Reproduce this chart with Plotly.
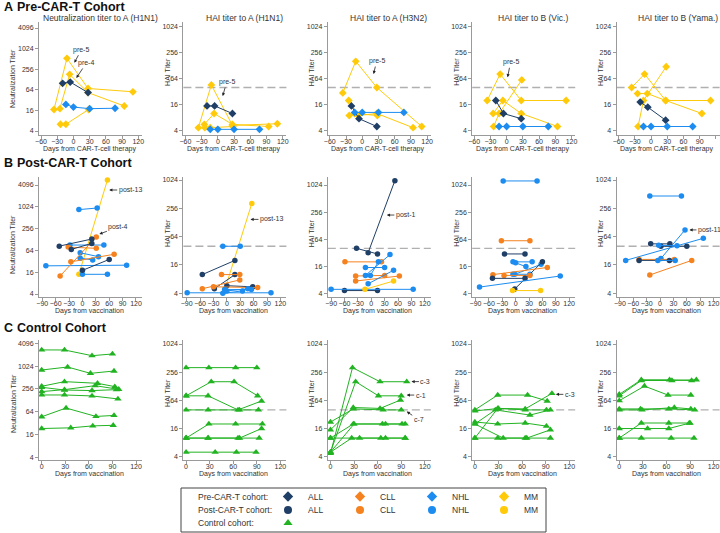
import math
import plotly.graph_objects as go

# ---------------- data ----------------
COLORS = {"ALL": "#203F66", "CLL": "#F5821F", "NHL": "#1C8CF0", "MM": "#FFCA0A", "CTRL": "#22B322"}
GROUPS = ["ALL", "CLL", "NHL", "MM"]

# A: pre-CAR-T cohort, one row per subject, same days in all five assays
PRE_GROUPS = ["MM", "MM", "MM", "ALL", "NHL"]
PRE_DAYS = [
    [-36, -12, 27, 110],  # pre-5
    [-25, -7, 27, 94],
    [-24, -14, 28],
    [-20, -6, 27],        # pre-4
    [-14, 0, 30, 77],
]
PRE_NEUT_H1N1 = [[17, 534, 70, 56], [18, 181, 53, 21.5], [6.3, 6.3, 17], [99, 108, 53], [24, 20, 18, 18.5]]
PRE_HAI_H1N1 = [[4.7, 46, 5.3, 5.8], [5.6, 10, 5.6, 5], [4.7, 4.7, 5], [15, 15, 10], [4.3, 4.3, 4.3, 4.3]]
PRE_HAI_H3N2 = [[30, 162, 40, 5], [20, 9, 10, 4.7], [9, 10, 9], [15, 7.6, 5], [10.6, 10.6, 10.6, 10.6]]
PRE_HAI_BVIC = [[20, 82, 20, 20], [10, 20, 10, 5], [5, 10, 60], [20, 10, 7.6], [5, 5, 5, 5]]
PRE_HAI_BYAM = [[40, 82, 20, 20], [29, 29, 20, 10], [5, 20, 121], [18.4, 14, 7], [5, 5, 5, 5]]

# B: post-CAR-T cohort, (group, days, titers)
POST_NEUT_H1N1 = [
    ("MM", [-8, 56], [14, 5600]),
    ("NHL", [-8, 33], [856, 948]),
    ("NHL", [-28, 48], [90, 90]),
    ("NHL", [-5, 36], [55, 43]),
    ("NHL", [-5, 23], [39, 35]),
    ("NHL", [-82, 99], [24, 25]),
    ("NHL", [0, 56], [14, 14]),
    ("CLL", [-32, 31], [79, 73]),
    ("CLL", [-26, 71], [31, 50]),
    ("CLL", [-50, 31], [12.6, 150]),
    ("ALL", [-52, 21], [84, 132]),
    ("ALL", [-25, 21], [68, 100]),
    ("ALL", [0, 60], [18, 36]),
]
POST_HAI_H1N1 = [
    ("MM", [-4, 56], [5, 326]),
    ("ALL", [-55, 18], [10, 20]),
    ("ALL", [-28, 18], [5, 10]),
    ("ALL", [0, 58], [5.8, 5.5]),
    ("CLL", [-55, 29], [5, 7.7]),
    ("CLL", [-12, 29], [10, 10]),
    ("CLL", [-30, 69], [5.5, 5.3]),
    ("NHL", [-89, 99], [4.1, 4.1]),
    ("NHL", [-9, 30], [40, 40]),
    ("NHL", [-9, 35], [4, 4.5]),
    ("NHL", [0, 47], [4.5, 5]),
    ("NHL", [-5, 55], [4.8, 4.8]),
]
POST_HAI_H3N2 = [
    ("ALL", [-33, 14], [40, 30]),
    ("ALL", [-7, 53], [32, 1280]),
    ("ALL", [-60, 14], [4.6, 4.6]),
    ("CLL", [-59, 23], [20, 20]),
    ("CLL", [-35, 30], [9.7, 10]),
    ("CLL", [-35, 63], [7.5, 9.7]),
    ("NHL", [-13, 30], [15, 15]),
    ("NHL", [-13, 42], [10, 29]),
    ("NHL", [-7, 50], [6.5, 13]),
    ("NHL", [-2, 16], [10, 20]),
    ("NHL", [-90, 94], [4.9, 4.9]),
    ("MM", [-14, 50], [4.9, 7.5]),
]
POST_HAI_BVIC = [
    ("NHL", [-28, 48], [1260, 1260]),
    ("CLL", [-32, 32], [59, 59]),
    ("ALL", [-25, 21], [30, 30]),
    ("NHL", [-6, 37], [20, 20]),
    ("NHL", [0, 23], [19, 15.7]),
    ("NHL", [-6, 32], [10.6, 10.6]),
    ("NHL", [-2, 57], [10.6, 17.6]),
    ("ALL", [-2, 60], [5, 20]),
    ("CLL", [-51, 71], [10.4, 15]),
    ("CLL", [-26, 32], [10, 10]),
    ("ALL", [-52, 21], [8.6, 8.6]),
    ("NHL", [-81, 100], [5.5, 9.7]),
    ("MM", [-7, 56], [4.6, 4.6]),
]
POST_HAI_BYAM = [
    ("NHL", [-23, 48], [468, 468]),
    ("NHL", [2, 56], [22, 89]),
    ("ALL", [-21, 22], [45, 45]),
    ("ALL", [2, 60], [40, 40]),
    ("NHL", [-3, 38], [42, 41]),
    ("NHL", [-77, 97], [20, 59]),
    ("CLL", [-47, 32], [21, 21]),
    ("ALL", [-47, 21], [20, 20]),
    ("NHL", [-5, 34], [20, 20]),
    ("CLL", [-23, 71], [9.8, 20]),
]

# C: control cohort, (days, titers)
CTRL_NEUT_H1N1 = [
    ([0, 29, 64, 90], [2740, 2730, 1930, 2140]),
    ([0, 33, 62, 92], [808, 970, 660, 760]),
    ([0, 29, 71, 93], [300, 398, 360, 294]),
    ([0, 29, 64, 95], [282, 239, 231, 245]),
    ([0, 29, 68, 98], [217, 245, 312, 249]),
    ([0, 29, 64, 97], [177, 177, 167, 139]),
    ([0, 31, 69, 92], [47, 80, 48, 51]),
    ([0, 37, 65, 91], [23, 24, 27, 28]),
]
CTRL_HAI_H1N1 = [
    ([0, 29, 63, 90], [320, 320, 320, 320]),
    ([0, 32, 61, 91], [80, 160, 160, 80]),
    ([0, 28, 66, 96], [80, 80, 40, 62]),
    ([0, 28, 68, 92], [40, 40, 40, 40]),
    ([0, 29, 63, 97], [10, 20, 20, 20]),
    ([0, 28, 66, 93], [10, 10, 10, 10]),
    ([0, 28, 68, 96], [10, 10, 10, 16]),
    ([0, 37, 64, 89], [5, 5, 5, 5]),
]
CTRL_HAI_H3N2 = [
    ([0, 28, 63, 97], [4.7, 320, 160, 160]),   # c-3
    ([0, 32, 61, 90], [5, 160, 80, 80]),       # c-1
    ([0, 29, 67, 90], [22, 42, 40, 40]),       # c-7
    ([0, 29, 63, 89], [15, 45, 43, 65]),
    ([0, 29, 66, 91], [10, 20, 20, 20]),
    ([0, 37, 64, 95], [10, 10, 10, 10]),
    ([0, 27, 70, 95], [5, 10, 10, 10]),
    ([0, 30, 70, 95], [5, 20, 20, 20]),
]
CTRL_HAI_BVIC = [
    ([0, 29, 67, 92], [40, 83, 83, 62]),
    ([0, 30, 64, 98], [38, 43, 42, 90]),       # c-3
    ([0, 26, 70, 96], [20, 40, 31, 40]),
    ([0, 29, 64, 91], [10, 43, 40, 40]),
    ([0, 29, 64, 91], [22, 20, 21, 18]),
    ([0, 36, 66, 96], [20, 10, 10, 15]),
    ([0, 29, 64, 96], [10, 10, 10, 10]),
]
CTRL_HAI_BYAM = [
    ([0, 28, 64, 92], [86, 176, 176, 170]),
    ([0, 28, 67, 98], [80, 170, 170, 176]),
    ([0, 32, 62, 91], [63, 129, 83, 83]),
    ([0, 27, 63, 96], [42, 42, 42, 40]),
    ([0, 29, 70, 91], [40, 40, 45, 42]),
    ([0, 36, 63, 90], [16, 16, 16, 21]),
    ([0, 28, 63, 89], [10, 21, 21, 21]),
    ([0, 28, 66, 95], [10, 10, 10, 10]),
]

TITLES = ["Neutralization titer to A (H1N1)", "HAI titer to A (H1N1)", "HAI titer to A (H3N2)",
          "HAI titer to B (Vic.)", "HAI titer to B (Yama.)"]
NEUT_TICKS = [4, 16, 64, 256, 1024, 4096]
HAI_TICKS = [4, 16, 64, 256, 1024]
X_TICKS = [[-60, -30, 0, 30, 60, 90, 120], [-90, -60, -30, 0, 30, 60, 90, 120], [0, 30, 60, 90, 120]]
X_TITLES = ["Days from CAR-T-cell therapy", "Days from vaccination", "Days from vaccination"]
HAI_CUTOFF = 40

# (panel, label, head day, head titer, text dx, text dy)
CALLOUTS = [
    (1, "pre-5", 1.7, 396, 7, -13), (1, "pre-4", 5.4, 142, 10, -15),
    (2, "pre-5", 9, 25.4, 4, -14), (3, "pre-5", 21, 82, 3, -13), (4, "pre-5", 1.7, 69, 3, -15),
    (6, "post-13", 60, 2980, 21, 0), (6, "post-4", 38, 181, 19, -7),
    (7, "post-13", 53, 149, 21, 0), (8, "post-1", 35, 220, 19, 0), (10, "post-11", 66, 89, 20, 0),
    (13, "c-3", 103, 161, 14, 0), (13, "c-1", 97, 83, 14, 0), (13, "c-7", 97, 36.8, 12, 8),
    (14, "c-3", 103, 86, 14, 0),
]

# ---------------- layout geometry ----------------
W, H = 720, 533
FONT = "Arial, 'Liberation Sans', sans-serif"
TXT = "#333333"
AXC = "#9A9A9A"
COL_LEFT = [39, 183.4, 327.8, 472.2, 616.6]
COL_W = 103
ROW_TB = [(22, 135), (177, 297), (340, 460)]
Y_LOG2 = [
    [(1.612, 12.583)] + [(1.669, 10.362)] * 4,
    [(1.725, 12.734), (1.739, 10.212), (1.727, 10.591), (1.727, 10.591), (1.739, 10.212)],
    [(1.763, 12.29)] + [(1.766, 10.284)] * 4,
]
X_RANGE = [(-63.7, 126.8), (-97.4, 133.5), (-3.4, 127.6)]
SYMBOLS = ["diamond", "circle", "triangle-up"]
SIZES = [6, 5.5, 6.5]
L2 = math.log10(2)


def px(x):
    return x / W


def py(y):
    return 1 - y / H


def aid(k):
    return "" if k == 1 else str(k)


def label(text, x, y, size=7, xanchor="center", **kw):
    return dict(text=text, xref="paper", yref="paper", x=px(x), y=py(y), xanchor=xanchor,
                yanchor="middle", showarrow=False, font=dict(size=size, color=kw.pop("color", TXT)), **kw)


fig = go.Figure()


def add_subject(k, row, group, days, vals):
    col = COLORS[group]
    fig.add_trace(go.Scatter(
        x=days, y=vals, xaxis="x" + aid(k), yaxis="y" + aid(k), mode="lines+markers",
        line=dict(color=col, width=1),
        marker=dict(symbol=SYMBOLS[row], size=SIZES[row], color=col),
        showlegend=False, hoverinfo="skip"))


PRE = [PRE_NEUT_H1N1, PRE_HAI_H1N1, PRE_HAI_H3N2, PRE_HAI_BVIC, PRE_HAI_BYAM]
POST = [POST_NEUT_H1N1, POST_HAI_H1N1, POST_HAI_H3N2, POST_HAI_BVIC, POST_HAI_BYAM]
CTRL = [CTRL_NEUT_H1N1, CTRL_HAI_H1N1, CTRL_HAI_H3N2, CTRL_HAI_BVIC, CTRL_HAI_BYAM]

for c in range(5):
    for g, d, v in zip(PRE_GROUPS, PRE_DAYS, PRE[c]):
        add_subject(c + 1, 0, g, d, v)
    for g, d, v in POST[c]:
        add_subject(c + 6, 1, g, d, v)
    for d, v in CTRL[c]:
        add_subject(c + 11, 2, "CTRL", d, v)

layout = {}
annotations = []
shapes = []
tickfont = dict(size=7, color=TXT)
for r in range(3):
    top, bot = ROW_TB[r]
    for c in range(5):
        k = r * 5 + c + 1
        left = COL_LEFT[c]
        lo, hi = Y_LOG2[r][c]
        ticks = NEUT_TICKS if c == 0 else HAI_TICKS
        common = dict(showline=True, linecolor=AXC, linewidth=1, ticks="outside", ticklen=3,
                      tickcolor=AXC, tickwidth=1, showgrid=False, zeroline=False, tickfont=tickfont,
                      tickangle=0, automargin=False)
        layout["xaxis" + aid(k)] = dict(domain=[px(left), px(left + COL_W)], anchor="y" + aid(k),
                                        range=list(X_RANGE[r]), tickvals=X_TICKS[r],
                                        ticklabelstandoff=-3, **common)
        layout["yaxis" + aid(k)] = dict(domain=[py(bot), py(top)], anchor="x" + aid(k), type="log",
                                        range=[lo * L2, hi * L2], tickvals=ticks,
                                        ticktext=[str(t) for t in ticks], **common)
        if c > 0:
            shapes.append(dict(type="line", xref="x" + aid(k) + " domain", yref="y" + aid(k),
                               x0=0, x1=1, y0=HAI_CUTOFF, y1=HAI_CUTOFF, layer="below",
                               line=dict(color="#B0B0B0", width=1.3, dash="8px,4px")))
        # axis titles
        annotations.append(label(X_TITLES[r], left + 50, bot + 13.5))
        ytitle = "Neutralization Titer" if c == 0 else "HAI Titer"
        yc = [(79, 72), (245, 233), (404, 393)][r][0 if c == 0 else 1]
        annotations.append(label(ytitle, left - (26 if c == 0 else 16.5), yc, textangle=-90))
        if r == 0:
            annotations.append(label(TITLES[c], left + 61, 17.5, size=8.5))

for k, text, xd, yv, dx, dy in CALLOUTS:
    annotations.append(dict(text=text, xref="x" + aid(k), yref="y" + aid(k), x=xd, y=math.log10(yv),
                            ax=dx, ay=dy, showarrow=True, arrowhead=2, arrowsize=0.8, arrowwidth=0.8,
                            arrowcolor="#222222", font=dict(size=7, color=TXT)))

# panel headers
for letter, name, yy in [("A", "Pre-CAR-T Cohort", 6.5), ("B", "Post-CAR-T Cohort", 163),
                         ("C", "Control Cohort", 327.5)]:
    annotations.append(label("<b>%s</b>" % letter, 1.5, yy, size=12.5, xanchor="left", color="#111111"))
    annotations.append(label("<b>%s</b>" % name, 14.5, yy, size=12.5, xanchor="left", color="#111111"))

# legend box and row labels
shapes.append(dict(type="rect", xref="paper", yref="paper", x0=px(181), x1=px(546), y0=py(532), y1=py(488),
                   line=dict(color="#444444", width=1), fillcolor="rgba(0,0,0,0)"))
LEG_ROWS = [("Pre-CAR-T cohort:", 496.5), ("Post-CAR-T cohort:", 510), ("Control cohort:", 523)]
for text, yy in LEG_ROWS:
    annotations.append(label(text, 196, yy, size=8.5, xanchor="left"))

leg_names = ["legend", "legend2", "legend3"]
for i, lname in enumerate(leg_names):
    groups = GROUPS if i < 2 else ["CTRL"]
    for g in groups:
        fig.add_trace(go.Scatter(x=[None], y=[None], mode="markers", name=g if g != "CTRL" else " ",
                                 marker=dict(symbol=SYMBOLS[i], size=8, color=COLORS[g]),
                                 legend=lname, showlegend=True, hoverinfo="skip"))

leg_common = dict(orientation="h", xanchor="left", yanchor="middle", bgcolor="rgba(0,0,0,0)",
                  font=dict(size=8.5, color=TXT, family=FONT), entrywidthmode="pixels", entrywidth=27,
                  itemwidth=30, tracegroupgap=0, borderwidth=0)
for i, lname in enumerate(leg_names):
    layout[lname] = dict(x=px(268), y=py(LEG_ROWS[i][1]), **leg_common)

fig.update_layout(
    width=W, height=H, autosize=False,
    margin=dict(l=0, r=0, t=0, b=0, pad=0, autoexpand=False),
    paper_bgcolor="white", plot_bgcolor="white",
    font=dict(family=FONT, color=TXT),
    showlegend=True,
    annotations=annotations, shapes=shapes,
    **layout,
)

# the page body keeps its default margin otherwise, which would push the figure 8px off
fig.write_html("out.html", config={"displayModeBar": False},
               post_script="document.body.style.margin='0';")
